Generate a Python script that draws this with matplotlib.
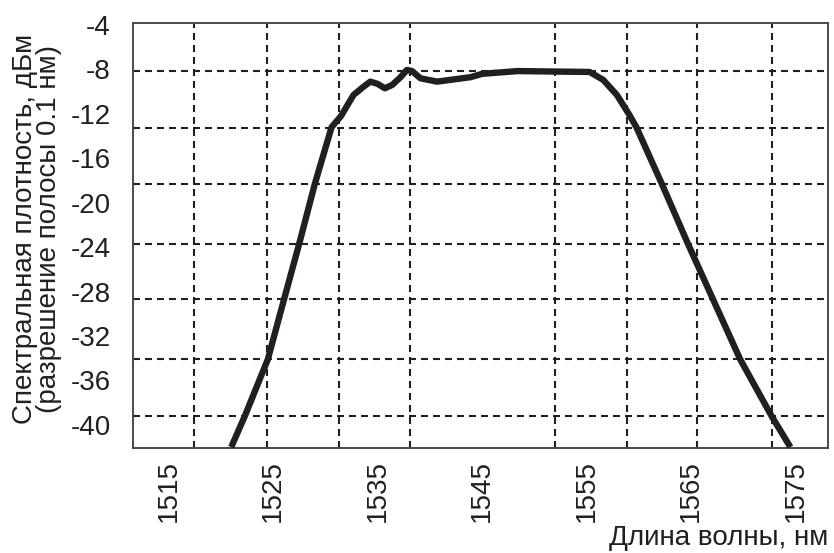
import matplotlib
matplotlib.use("Agg")
import matplotlib.pyplot as plt
from matplotlib.ticker import FixedLocator

plt.rcParams['font.family'] = ['Liberation Sans', 'DejaVu Sans']

# Data
wavelength = [1521.0, 1522.3, 1524.5, 1526.05, 1527.5, 1529.0, 1530.6, 1531.5, 1532.7,
              1533.6, 1534.3, 1535.0, 1535.7, 1536.4, 1537.2, 1537.8, 1538.3, 1539.1,
              1540.7, 1543.9, 1545.0, 1548.4, 1552.5, 1555.3, 1556.6, 1557.9, 1559.1,
              1559.8, 1562.2, 1564.7, 1567.1, 1569.7, 1572.7, 1574.5]
power = [-42.0, -39.2, -34.1, -28.7, -23.7, -18.3, -13.2, -12.2, -10.3,
         -9.6, -9.1, -9.3, -9.7, -9.4, -8.7, -8.05, -8.15, -8.8,
         -9.1, -8.7, -8.4, -8.15, -8.2, -8.23, -8.95, -10.3, -12.1,
         -13.27, -18.3, -23.7, -28.7, -34.1, -39.2, -42.0]

x_ticks = [1515, 1525, 1535, 1545, 1555, 1565, 1575]
x_ticklabels = ["1515", "1525", "1535", "1545", "1555", "1565", "1575"]
y_ticks = [-4, -8, -12, -16, -20, -24, -28, -32, -36, -40]
y_ticklabels = ["-4", "-8", "-12", "-16", "-20", "-24", "-28", "-32", "-36", "-40"]

# Grid lines as drawn in the reference (not aligned with tick labels)
x_grid = [1517.4, 1524.4, 1531.3, 1538.1, 1545.0, 1552.0, 1558.9, 1565.6, 1572.7]
y_grid = [-8.14, -13.28, -18.32, -23.72, -28.67, -34.07, -39.2]

fig = plt.figure(figsize=(8.34, 5.53), dpi=100)
ax = fig.add_axes([133/834, 1-447.7/553, (828-133)/834, (447.7-23.3)/553])

ax.set_xlim(1511.6, 1578.1)
ax.set_ylim(-42.05, -3.85)

ax.xaxis.set_major_locator(FixedLocator(x_ticks))
ax.set_xticklabels(x_ticklabels, rotation=90)
ax.yaxis.set_major_locator(FixedLocator(y_ticks))
ax.set_yticklabels(y_ticklabels)
ax.xaxis.set_minor_locator(FixedLocator(x_grid))
ax.yaxis.set_minor_locator(FixedLocator(y_grid))

ax.tick_params(which='both', length=0)
ax.tick_params(axis='x', which='major', pad=9, labelsize=20, colors='#231f20')
ax.tick_params(axis='y', which='major', pad=16, labelsize=20, colors='#231f20')

ax.grid(False, which='major')
ax.grid(True, which='minor', color='#231f20', linewidth=1.5,
        linestyle=(0, (3.36, 2.4)))
ax.set_axisbelow(True)

for s in ax.spines.values():
    s.set_color('#4a4a4a')
    s.set_linewidth(1.4)

ax.plot(wavelength, power, color='#231f20', linewidth=4.6,
        solid_joinstyle='round', solid_capstyle='butt', clip_on=True, zorder=3)

fig.text(37/834, 1-229/553,
         "Спектральная плотность, дБм\n(разрешение полосы 0.1 нм)",
         rotation=90, ha='center', va='center', multialignment='center',
         fontsize=20, color='#231f20', linespacing=0.88)
fig.text(828/834, 1-538/553, "Длина волны, нм", ha='right', va='center',
         fontsize=20, color='#231f20')

fig.savefig("out.png", dpi=100)
